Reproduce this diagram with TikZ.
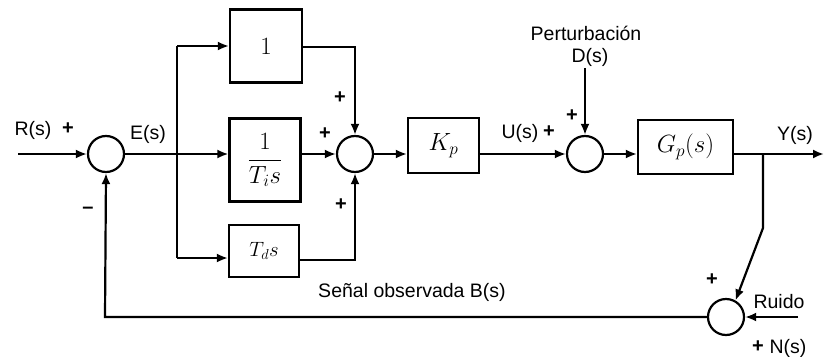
\documentclass[tikz,border=0pt]{standalone}
\usepackage{fontspec}
\setmainfont{Liberation Sans}
\usetikzlibrary{arrows.meta,calc}
\begin{document}
\begin{tikzpicture}[x=1pt,y=-1pt,
  line width=2.2pt,
  arr/.style={-{Latex[length=11pt,width=9pt]}},
  blk/.style={draw,line width=2.2pt,inner sep=0pt,font=\fontsize{25}{30}\selectfont},
  sumc/.style={draw,circle,line width=2.2pt,minimum size=36pt,inner sep=0pt},
  lbl/.style={font=\fontsize{19.5}{22}\selectfont,inner sep=0pt},
  plus/.style={font=\fontsize{20}{22}\selectfont\bfseries,inner sep=0pt}]
\useasboundingbox (0,0) rectangle (824,356);
% nodes
\coordinate (in) at (18,154);
\node[sumc] (s1) at (106,154) {};
\coordinate (b) at (177,154);
\coordinate (bt) at (177,46);
\coordinate (bb) at (177,258);
\node[blk,minimum width=72pt,minimum height=73pt] (g1) at (266,46) {$1$};
\node[blk,minimum width=71pt,minimum height=83pt,font=\fontsize{23}{28}\selectfont] (g2) at (265,160) {$\displaystyle\frac{1}{T_i s}$};
\node[blk,minimum width=70pt,minimum height=52pt,font=\fontsize{22}{26}\selectfont] (g3) at (264,251) {$T_d s$};
\node[sumc] (s2) at (355,154) {};
\node[blk,minimum width=71pt,minimum height=55pt,font=\fontsize{26}{30}\selectfont] (kp) at (443.5,145.5) {$K_p$};
\node[sumc] (s3) at (585,154) {};
\node[blk,minimum width=95pt,minimum height=54pt] (gp) at (685.5,147) {$G_p(s)$};
\coordinate (out) at (824,154);
\coordinate (yb) at (763,154);
\coordinate (yk) at (763,228);
\node[sumc] (s4) at (726,317) {};
\coordinate (nz) at (798,317);
\coordinate (fb) at (105,317);
\coordinate (d) at (585,68);
% connectors
\draw[arr] (in) -- (s1);
\draw (s1) -- (b);
\draw (bt) -- (bb);
\draw[arr] (bt) -- (bt -| g1.west);
\draw[arr] (b) -- (b -| g2.west);
\draw[arr] (bb) -- (bb -| g3.west);
\draw[arr] (g1.east |- 0,47) -- (355,47) -- (s2.north);
\draw[arr] (g2.east |- s2) -- (s2);
\draw[arr] (g3.east |- 0,260) -- (355,260) -- (s2.south);
\draw[arr] (s2) -- (s2 -| kp.west);
\draw[arr] (kp.east |- s3) -- (s3);
\draw[arr] (d) -- (s3.north);
\draw[arr] (s3) -- (s3 -| gp.west);
\draw[arr] (gp.east |- out) -- (out);
\draw[arr] (yb) -- (yk) -- (s4.60);
\draw[arr] (nz) -- (s4.east);
\draw[arr] (s4.west) -- (fb) -- (s1.south);
% labels
\node[lbl] at (33,130) {R(s)};
\node[plus] at (68,129) {+};
\node[lbl] at (148,134) {E(s)};
\node[plus] at (340,98) {+};
\node[plus] at (325,134) {+};
\node[plus] at (341,205) {+};
\node[plus] at (88,210) {–};
\node[lbl] at (520,133) {U(s)};
\node[plus] at (549,132) {+};
\node[plus] at (572,116) {+};
\node[lbl] at (586,33) {Perturbación};
\node[lbl] at (590,57) {D(s)};
\node[lbl] at (795,135) {Y(s)};
\node[plus] at (712,280) {+};
\node[lbl] at (779,302) {Ruido};
\node[plus] at (758,347) {+};
\node[lbl] at (788,348) {N(s)};
\node[lbl] at (412,292) {Señal observada B(s)};
\end{tikzpicture}
\end{document}
